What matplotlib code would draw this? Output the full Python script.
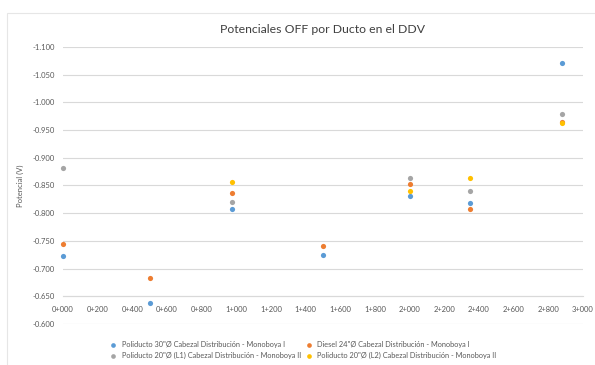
import matplotlib
matplotlib.use("Agg")
import matplotlib.pyplot as plt
from matplotlib.patches import Rectangle
from matplotlib.ticker import FuncFormatter, MultipleLocator

plt.rcParams['font.family'] = ['Lato', 'DejaVu Sans']

# Progresiva (m) de cada punto de medición y potencial OFF (V)
series_names = [
    'Poliducto 30"Ø Cabezal Distribución - Monoboya I',
    'Diesel 24"Ø Cabezal Distribución - Monoboya I',
    'Poliducto 20"Ø (L1) Cabezal Distribución - Monoboya II',
    'Poliducto 20"Ø (L2) Cabezal Distribución - Monoboya II',
]
series_colors = ['#5B9BD5', '#ED7D31', '#A5A5A5', '#FFC000']

poliducto30_x = [0, 500, 975, 1500, 2000, 2350, 2880]
poliducto30_y = [-0.723, -0.638, -0.808, -0.725, -0.831, -0.818, -1.071]

diesel24_x = [0, 500, 975, 1500, 2000, 2350, 2880]
diesel24_y = [-0.744, -0.683, -0.836, -0.741, -0.853, -0.808, -0.965]

poliducto20_l1_x = [0, 975, 2000, 2350, 2880]
poliducto20_l1_y = [-0.882, -0.820, -0.864, -0.840, -0.979]

poliducto20_l2_x = [975, 2000, 2350, 2880]
poliducto20_l2_y = [-0.856, -0.840, -0.864, -0.962]

series_x = [poliducto30_x, diesel24_x, poliducto20_l1_x, poliducto20_l2_x]
series_y = [poliducto30_y, diesel24_y, poliducto20_l1_y, poliducto20_l2_y]

fig = plt.figure(figsize=(5.95, 3.65), dpi=100)
fig.patches.append(Rectangle((7 / 595, -0.01), 1.0, 1 - 13 / 365 + 0.01,
                             transform=fig.transFigure, fill=False,
                             edgecolor='#E6E6E6', linewidth=0.8))

ax = fig.add_axes([63 / 595, 41 / 365, 520 / 595, 277 / 365])

handles = []
for name, color, xs, ys in zip(series_names, series_colors, series_x, series_y):
    h = ax.scatter(xs, ys, s=14, color=color, label=name, zorder=3,
                   linewidths=0, clip_on=False)
    handles.append(h)

ax.set_xlim(0, 3000)
ax.set_ylim(-0.6, -1.1)
ax.xaxis.set_major_locator(MultipleLocator(200))
ax.yaxis.set_major_locator(MultipleLocator(0.05))
ax.xaxis.set_major_formatter(FuncFormatter(
    lambda v, p: f"{int(round(v)) // 1000}+{int(round(v)) % 1000:03d}"))
ax.yaxis.set_major_formatter(FuncFormatter(lambda v, p: f"{v:.3f}"))

ax.grid(axis='y', color='#D9D9D9', linewidth=0.8)
ax.set_axisbelow(True)
for side in ['top', 'right', 'left']:
    ax.spines[side].set_visible(False)
ax.spines['bottom'].set_position(('data', -0.65))
ax.spines['bottom'].set_color('#D9D9D9')
ax.spines['bottom'].set_linewidth(0.8)
ax.tick_params(axis='both', length=0, labelsize=5.5, labelcolor='#595959')
ax.tick_params(axis='x', pad=7)
ax.tick_params(axis='y', pad=6)

ax.set_ylabel('Potencial (V)', fontsize=5.5, color='#595959', labelpad=6)
ax.set_title('Potenciales OFF por Ducto en el DDV', fontsize=8.8,
             color='#404040', pad=10)

# legend laid out row by row: (30", Diesel) / (L1, L2)
order = [0, 2, 1, 3]
ax.legend([handles[i] for i in order], [series_names[i] for i in order],
          loc='upper center', bbox_to_anchor=(0.458, -0.05), ncol=2,
          fontsize=5.3, frameon=False, handletextpad=0.1, columnspacing=0.1,
          labelspacing=0.6, markerscale=0.9, borderaxespad=0,
          labelcolor='#595959')

fig.savefig('out.png', dpi=100)
